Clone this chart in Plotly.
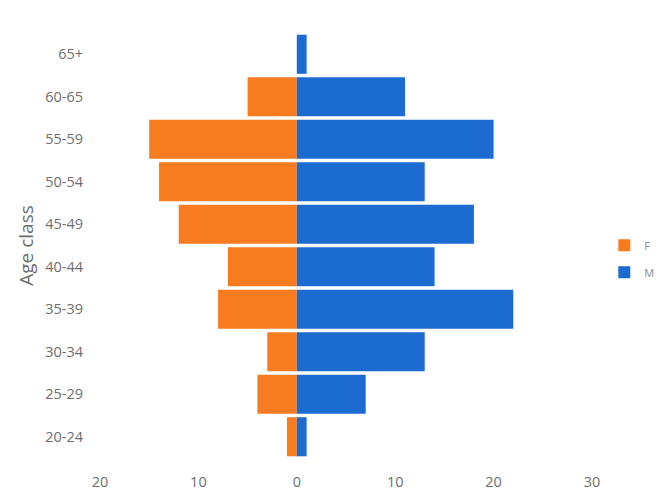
import plotly.graph_objects as go

age_classes = ["20-24", "25-29", "30-34", "35-39", "40-44", "45-49", "50-54", "55-59", "60-65", "65+"]
female = [1, 4, 3, 8, 7, 12, 14, 15, 5, 0]
male = [1, 7, 13, 22, 14, 18, 13, 20, 11, 1]
tick_vals = [-20, -10, 0, 10, 20, 30]
tick_text = ["20", "10", "0", "10", "20", "30"]

orange = "#F87B1F"
blue = "#1C6BD1"
gray = "#6E6E6E"
font_family = "Open Sans, Noto Sans, sans-serif"

fig = go.Figure()
fig.add_trace(go.Bar(
    y=age_classes, x=[-v for v in female], orientation="h", name="F",
    marker=dict(color=orange, line=dict(width=0)), legendgroup="F",
))
fig.add_trace(go.Bar(
    y=age_classes, x=male, orientation="h", name="M",
    marker=dict(color=blue, line=dict(width=0)), legendgroup="M",
))

fig.update_layout(
    width=659, height=493,
    margin=dict(l=100, r=67, t=33, b=35, autoexpand=False),
    paper_bgcolor="white", plot_bgcolor="white",
    barmode="relative", bargap=0.08,
    font=dict(family=font_family, color=gray, size=14),
    legend=dict(
        xref="container", yref="container",
        x=0.917, y=0.475, xanchor="left", yanchor="middle",
        font=dict(size=11, color="#8A8A8A"),
        tracegroupgap=8, itemwidth=30,
        bgcolor="rgba(0,0,0,0)",
    ),
    showlegend=True,
)
fig.update_xaxes(
    range=[-20, 30], tickvals=tick_vals, ticktext=tick_text,
    showgrid=False, zeroline=False, showline=False,
    ticks="", ticklabelstandoff=13,
    tickfont=dict(size=14.5, color=gray),
)
fig.update_yaxes(
    categoryorder="array", categoryarray=age_classes,
    showgrid=False, zeroline=False, showline=False,
    ticks="", ticklabelstandoff=16,
    tickfont=dict(size=14.5, color=gray),
    title=dict(text="Age class", font=dict(size=19, color=gray), standoff=6),
)

fig.write_html("out.html")
